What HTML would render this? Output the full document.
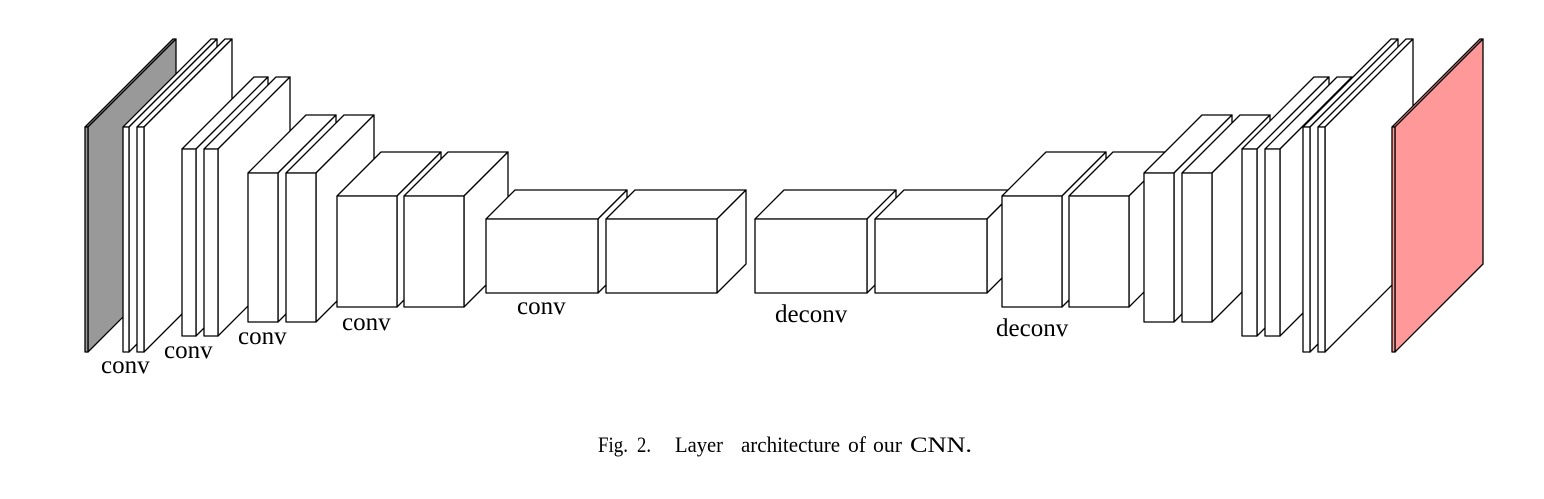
<!DOCTYPE html>
<html><head><meta charset="utf-8"><style>
html,body{margin:0;padding:0;background:#fff;}
svg{display:block}
text{font-family:"Liberation Serif",serif;fill:#000}
</style></head><body>
<svg id="s" width="1544" height="499" viewBox="0 0 1544 499" xmlns="http://www.w3.org/2000/svg">
<g id="g" stroke="#000" stroke-width="1.3" stroke-linejoin="round"></g>
<text x="101" y="373" font-size="25">conv</text>
<text x="164" y="358" font-size="25">conv</text>
<text x="238" y="344" font-size="25">conv</text>
<text x="342" y="330" font-size="25">conv</text>
<text x="517" y="314" font-size="25">conv</text>
<text x="775" y="322" font-size="25">deconv</text>
<text x="996" y="336" font-size="25">deconv</text>
<g font-size="22">
<text x="598" y="452" textLength="30" lengthAdjust="spacingAndGlyphs">Fig.</text>
<text x="637" y="452" textLength="14" lengthAdjust="spacingAndGlyphs">2.</text>
<text x="675" y="452" textLength="48" lengthAdjust="spacingAndGlyphs">Layer</text>
<text x="741" y="452" textLength="99" lengthAdjust="spacingAndGlyphs">architecture</text>
<text x="848" y="452" textLength="18" lengthAdjust="spacingAndGlyphs">of</text>
<text x="873" y="452" textLength="29" lengthAdjust="spacingAndGlyphs">our</text>
<text x="910" y="452" textLength="62" lengthAdjust="spacingAndGlyphs">CNN.</text>
</g>
</svg>
<script>
var g=document.getElementById('g');
function box(x,y,w,h,d,fill){
  fill=fill||'#fff';
  var dy=-d;
  var s='';
  s+='<polygon fill="'+fill+'" points="'+x+','+y+' '+(x+d)+','+(y+dy)+' '+(x+w+d)+','+(y+dy)+' '+(x+w)+','+y+'"/>';
  s+='<polygon fill="'+fill+'" points="'+(x+w)+','+y+' '+(x+w+d)+','+(y+dy)+' '+(x+w+d)+','+(y+h+dy)+' '+(x+w)+','+(y+h)+'"/>';
  s+='<rect fill="'+fill+'" x="'+x+'" y="'+y+'" width="'+w+'" height="'+h+'"/>';
  g.insertAdjacentHTML('beforeend',s);
}
var L=[
 [85,127,3,225,88,'#999'],
 [123,127,6,225,88],[137,127,7,225,88],
 [182,149,14,187,72],[204,149,14,187,72],
 [248,173,30,149,58],[286,173,30,149,58],
 [337,196,60,111,44],[404,196,60,111,44],
 [486,219,112,74,29],[606,219,111,74,29],
 [755,219,112,74,29],[875,219,112,74,29],
 [1002,196,60,111,44],[1069,196,60,111,44],
 [1144,173,30,149,58],[1182,173,30,149,58],
 [1242,149,15,187,72],[1265,149,15,187,72],
 [1303,127,7,225,88],[1318,127,7,225,88],
 [1392,127,3,225,88,'#ff9999']
];
L.forEach(function(a){box.apply(null,a);});
</script>
</body></html>
